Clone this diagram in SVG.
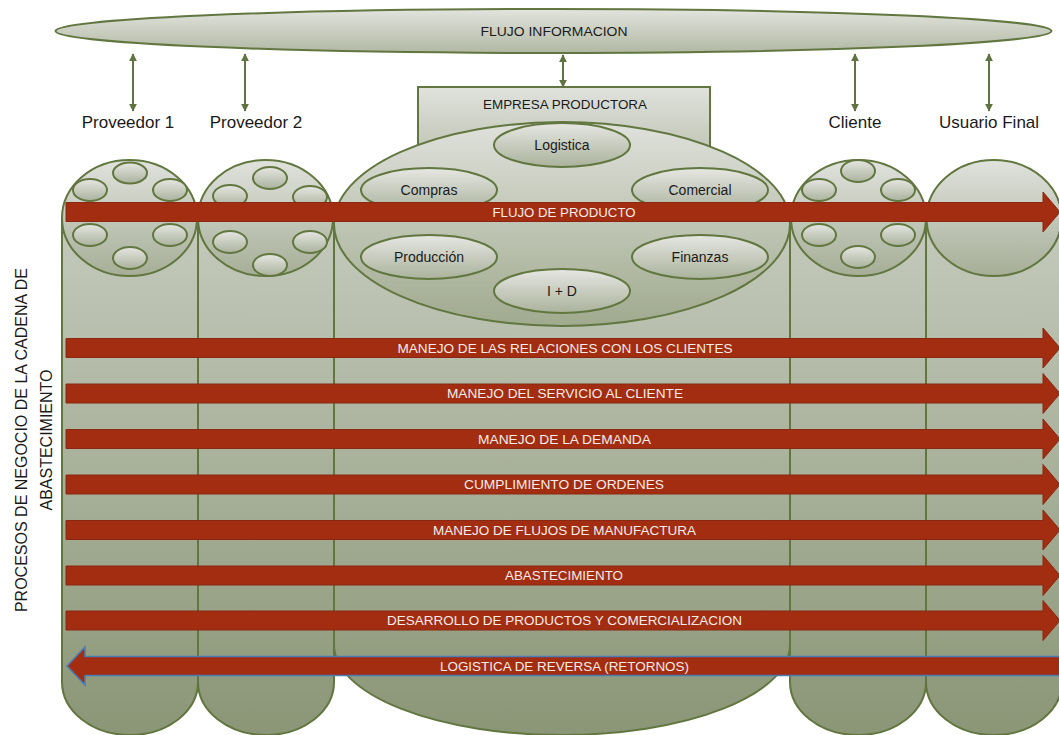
<svg xmlns="http://www.w3.org/2000/svg" width="1059" height="735" viewBox="0 0 1059 735">
<defs>
<linearGradient id="gCol" gradientUnits="userSpaceOnUse" x1="0" y1="200" x2="0" y2="735">
<stop offset="0" stop-color="#c7ccbf"/><stop offset="1" stop-color="#8a9676"/>
</linearGradient>
<linearGradient id="gCir" x1="0" y1="0" x2="0" y2="1">
<stop offset="0" stop-color="#e0e2dc"/><stop offset="1" stop-color="#a6ae97"/>
</linearGradient>
<linearGradient id="gBig" x1="0" y1="0" x2="0" y2="1">
<stop offset="0" stop-color="#dfe1db"/><stop offset="1" stop-color="#a0aa8e"/>
</linearGradient>
<linearGradient id="gSm" x1="0" y1="0" x2="0" y2="1">
<stop offset="0" stop-color="#e6e7e2"/><stop offset="1" stop-color="#aab29c"/>
</linearGradient>
<linearGradient id="gTop" x1="0" y1="0" x2="0" y2="1">
<stop offset="0" stop-color="#e2e4de"/><stop offset="1" stop-color="#b1b8a3"/>
</linearGradient>
<linearGradient id="gRect" x1="0" y1="0" x2="0" y2="1">
<stop offset="0" stop-color="#e0e2dc"/><stop offset="1" stop-color="#b9bfad"/>
</linearGradient>
<marker id="ah" viewBox="0 0 10 10" refX="9" refY="5" markerWidth="4" markerHeight="4" orient="auto-start-reverse" markerUnits="strokeWidth">
<path d="M0,0 L10,5 L0,10 Z" fill="#5f7343"/>
</marker>
<style>
.sh{stroke:#62763f;stroke-width:2}
.col{fill:url(#gCol)}
.cir{fill:url(#gCir)}
.sm{fill:url(#gSm)}
.lnk{stroke:#5f7343;stroke-width:2;fill:none;marker-start:url(#ah);marker-end:url(#ah)}
.bar{fill:#a32d10;stroke:#8a2813;stroke-width:1}
.rev{fill:#a32d10;stroke:#4a7db5;stroke-width:1.5}
.bt{font-family:"Liberation Sans",Arial,sans-serif;font-size:13px;fill:#f4ece8;text-anchor:middle}
.nt{font-family:"Liberation Sans",Arial,sans-serif;font-size:13px;fill:#1a1a1a;text-anchor:middle}
.it{font-family:"Liberation Sans",Arial,sans-serif;font-size:14px;fill:#1a1a1a;text-anchor:middle}
.lb{font-family:"Liberation Sans",Arial,sans-serif;font-size:17px;fill:#1a1a1a;text-anchor:middle}
.vt{font-family:"Liberation Sans",Arial,sans-serif;font-size:16px;fill:#1a1a1a;text-anchor:middle}
</style>
</defs>

<g id="flujo-informacion">
<ellipse cx="553.5" cy="31" rx="498" ry="22" fill="url(#gTop)" class="sh"/>
<text x="554" y="36" class="nt" textLength="147" lengthAdjust="spacingAndGlyphs">FLUJO INFORMACION</text>
</g>

<g id="empresa-productora">
<rect x="418" y="87" width="292" height="80" fill="url(#gRect)" class="sh"/>
<text x="565" y="109" class="nt" textLength="164" lengthAdjust="spacingAndGlyphs">EMPRESA PRODUCTORA</text>
</g>

<g id="proveedor1">
<path d="M62,218 V682 A68,53 0 0 0 198,682 V218 Z" class="col sh"/>
<ellipse cx="129.5" cy="218" rx="67.5" ry="58" class="cir sh"/>
<ellipse cx="130" cy="173" rx="17" ry="10.5" class="sm sh"/>
<ellipse cx="90" cy="190" rx="17" ry="11" class="sm sh"/>
<ellipse cx="170" cy="190" rx="17" ry="11" class="sm sh"/>
<ellipse cx="90" cy="235" rx="17" ry="11" class="sm sh"/>
<ellipse cx="170" cy="235" rx="17" ry="11" class="sm sh"/>
<ellipse cx="130" cy="258" rx="17" ry="11" class="sm sh"/>
<text x="128" y="128" class="lb">Proveedor 1</text>
</g>

<g id="proveedor2">
<path d="M198,218 V682 A68,53 0 0 0 334,682 V218 Z" class="col sh"/>
<ellipse cx="265.5" cy="218" rx="67.5" ry="58" class="cir sh"/>
<ellipse cx="270" cy="178" rx="17" ry="11" class="sm sh"/>
<ellipse cx="230" cy="196" rx="17" ry="11" class="sm sh"/>
<ellipse cx="310" cy="197" rx="17" ry="11" class="sm sh"/>
<ellipse cx="230" cy="242" rx="17" ry="11" class="sm sh"/>
<ellipse cx="310" cy="242" rx="17" ry="11" class="sm sh"/>
<ellipse cx="270" cy="265" rx="17" ry="11" class="sm sh"/>
<text x="256" y="128" class="lb">Proveedor 2</text>
</g>

<g id="empresa-procesos">
<path d="M334,224 V645 A228,90 0 0 0 790,645 V224 Z" class="col sh"/>
<ellipse cx="562" cy="224" rx="228" ry="102" fill="url(#gBig)" class="sh"/>
<ellipse cx="562" cy="145" rx="68" ry="22" class="sm sh"/>
<text x="562" y="150" class="it">Logistica</text>
<ellipse cx="429" cy="190" rx="68" ry="22" class="sm sh"/>
<text x="429" y="195" class="it">Compras</text>
<ellipse cx="700" cy="190" rx="68" ry="22" class="sm sh"/>
<text x="700" y="195" class="it">Comercial</text>
<ellipse cx="429" cy="257" rx="68" ry="22" class="sm sh"/>
<text x="429" y="262" class="it">Producción</text>
<ellipse cx="700" cy="257" rx="68" ry="22" class="sm sh"/>
<text x="700" y="262" class="it">Finanzas</text>
<ellipse cx="562" cy="291" rx="68" ry="22" class="sm sh"/>
<text x="562" y="296" class="it">I + D</text>
</g>

<g id="cliente">
<path d="M790,218 V682 A68,53 0 0 0 926,682 V218 Z" class="col sh"/>
<ellipse cx="858.5" cy="218" rx="67.5" ry="58" class="cir sh"/>
<ellipse cx="858" cy="171" rx="17" ry="11" class="sm sh"/>
<ellipse cx="819" cy="190" rx="17" ry="11" class="sm sh"/>
<ellipse cx="898" cy="190" rx="17" ry="11" class="sm sh"/>
<ellipse cx="819" cy="235" rx="17" ry="11" class="sm sh"/>
<ellipse cx="898" cy="235" rx="17" ry="11" class="sm sh"/>
<ellipse cx="858" cy="257" rx="17" ry="11" class="sm sh"/>
<text x="855" y="128" class="lb">Cliente</text>
</g>

<g id="usuario-final">
<path d="M926,218 V682 A68,53 0 0 0 1062,682 V218 Z" class="col sh"/>
<ellipse cx="994" cy="218" rx="67.5" ry="58" class="cir sh"/>
<text x="989" y="128" class="lb">Usuario Final</text>
</g>

<g id="connectors">
<line x1="133" y1="54" x2="133" y2="111" class="lnk"/>
<line x1="245" y1="54" x2="245" y2="111" class="lnk"/>
<line x1="563" y1="55" x2="563" y2="87" class="lnk"/>
<line x1="855" y1="54" x2="855" y2="111" class="lnk"/>
<line x1="989" y1="54" x2="989" y2="111" class="lnk"/>
</g>

<g id="procesos">
<path d="M66,202.5 H1043 V192 L1060,212 L1043,232 V221.5 H66 Z" class="bar"/>
<text x="564" y="216.5" class="bt" textLength="143" lengthAdjust="spacingAndGlyphs">FLUJO DE PRODUCTO</text>

<path d="M66,338.5 H1043 V328 L1060,348 L1043,368 V357.5 H66 Z" class="bar"/>
<text x="565" y="352.5" class="bt" textLength="335" lengthAdjust="spacingAndGlyphs">MANEJO DE LAS RELACIONES CON LOS CLIENTES</text>

<path d="M66,384 H1043 V373.5 L1060,393.5 L1043,413.5 V403 H66 Z" class="bar"/>
<text x="565" y="398" class="bt" textLength="236" lengthAdjust="spacingAndGlyphs">MANEJO DEL SERVICIO AL CLIENTE</text>

<path d="M66,429.5 H1043 V419 L1060,439 L1043,459 V448.5 H66 Z" class="bar"/>
<text x="564.5" y="443.5" class="bt" textLength="173" lengthAdjust="spacingAndGlyphs">MANEJO DE LA DEMANDA</text>

<path d="M66,475 H1043 V464.5 L1060,484.5 L1043,504.5 V494 H66 Z" class="bar"/>
<text x="564" y="489" class="bt" textLength="200" lengthAdjust="spacingAndGlyphs">CUMPLIMIENTO DE ORDENES</text>

<path d="M66,520.5 H1043 V510 L1060,530 L1043,550 V539.5 H66 Z" class="bar"/>
<text x="564.5" y="534.5" class="bt" textLength="263" lengthAdjust="spacingAndGlyphs">MANEJO DE FLUJOS DE MANUFACTURA</text>

<path d="M66,566 H1043 V555.5 L1060,575.5 L1043,595.5 V585 H66 Z" class="bar"/>
<text x="564" y="580" class="bt" textLength="118" lengthAdjust="spacingAndGlyphs">ABASTECIMIENTO</text>

<path d="M66,611 H1043 V600.5 L1060,620.5 L1043,640.5 V630 H66 Z" class="bar"/>
<text x="564.5" y="625" class="bt" textLength="355" lengthAdjust="spacingAndGlyphs">DESARROLLO DE PRODUCTOS Y COMERCIALIZACION</text>

<path d="M1062,656.5 H85 V647 L67,666 L85,685 V675.5 H1062 Z" class="rev"/>
<text x="564.5" y="670.5" class="bt" textLength="249" lengthAdjust="spacingAndGlyphs">LOGISTICA DE REVERSA (RETORNOS)</text>
</g>

<g id="titulo-vertical">
<text transform="translate(27,440) rotate(-90)" class="vt">PROCESOS DE NEGOCIO DE LA CADENA DE</text>
<text transform="translate(52,440) rotate(-90)" class="vt">ABASTECIMIENTO</text>
</g>
</svg>
